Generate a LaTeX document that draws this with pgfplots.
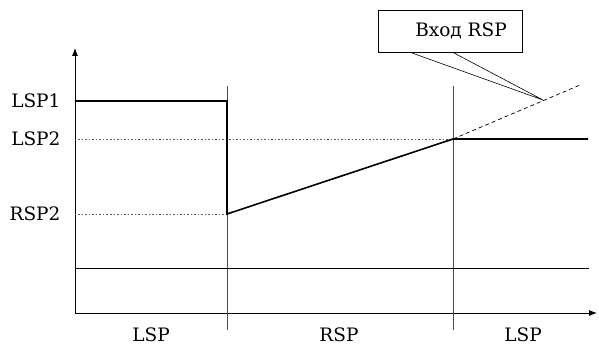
\documentclass[border=0pt]{standalone}
\usepackage{fontspec}
\setmainfont{DejaVu Serif}
\usepackage{pgfplots}
\usetikzlibrary{arrows.meta}
\pgfplotsset{compat=1.18}
\newcommand{\lf}{\fontsize{18.5}{21}\selectfont}
\begin{document}
\begin{tikzpicture}
\begin{axis}[
  scale only axis, width=522pt, height=265pt,
  xmin=0, xmax=522, ymin=0, ymax=265,
  axis lines=left, axis line style={line width=0.8pt, -{Latex[length=8pt,width=6pt]}},
  ticks=none, clip=false,
]
\path (axis cs:-75,-30) rectangle (axis cs:524,313);
% guide lines
\addplot[gray!60!black, line width=0.6pt] coordinates {(152,227) (152,-17)};
\addplot[gray!60!black, line width=0.6pt] coordinates {(378,227) (378,-17)};
\addplot[black, line width=0.7pt] coordinates {(0,45) (514,45)};
\addplot[gray!70!black, line width=0.7pt, dash pattern=on 1.5pt off 2pt] coordinates {(0,174) (378,174)};
\addplot[gray!70!black, line width=0.7pt, dash pattern=on 1.5pt off 2pt] coordinates {(0,99) (152,99)};
% signal
\addplot[black, line width=1.6pt] coordinates {(0,212) (152,212) (152,99) (378,174) (513,174)};
\addplot[black, line width=0.7pt, dash pattern=on 4pt off 3pt] coordinates {(378,174) (505,228)};
% callout
\draw[line width=0.6pt, fill=white] (axis cs:303,261) rectangle (axis cs:447,303);
\draw[line width=0.6pt] (axis cs:337,260) -- (axis cs:468,213) -- (axis cs:379,260);
\node[font=\lf] at (axis cs:386,282) {Вход RSP};
% labels
\node[anchor=east, font=\lf] at (axis cs:-11,212) {LSP1};
\node[anchor=east, font=\lf] at (axis cs:-11,174) {LSP2};
\node[anchor=east, font=\lf] at (axis cs:-11,99) {RSP2};
\node[font=\lf] at (axis cs:76,-22) {LSP};
\node[font=\lf] at (axis cs:264,-22) {RSP};
\node[font=\lf] at (axis cs:448,-22) {LSP};
\end{axis}
\end{tikzpicture}
\end{document}
